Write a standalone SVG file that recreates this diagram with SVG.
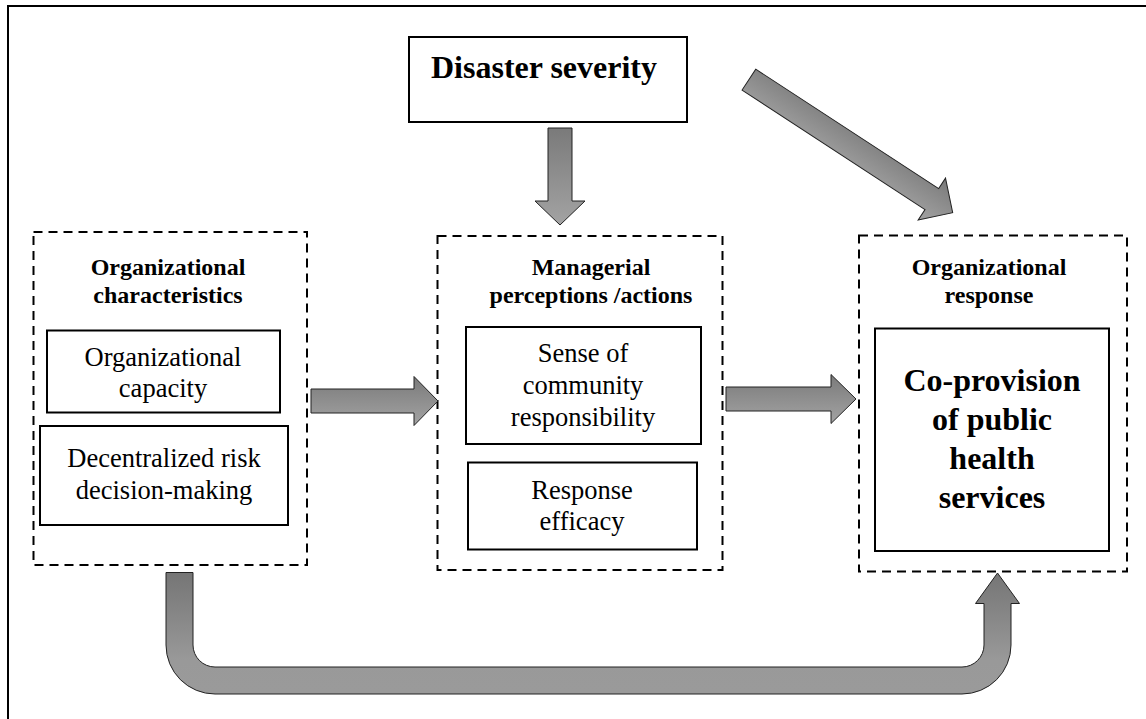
<svg xmlns="http://www.w3.org/2000/svg" width="1146" height="719" viewBox="0 0 1146 719">
  <defs>
    <linearGradient id="shade" x1="0" y1="0" x2="0" y2="1">
      <stop offset="0" stop-color="#7a7a7a"/>
      <stop offset="1" stop-color="#a3a3a3"/>
    </linearGradient>
    <linearGradient id="shadeU" gradientUnits="userSpaceOnUse" x1="0" y1="572" x2="0" y2="690">
      <stop offset="0" stop-color="#757575"/>
      <stop offset="0.75" stop-color="#999999"/>
      <stop offset="1" stop-color="#9a9a9a"/>
    </linearGradient>
    <style>
      .frame { fill: none; stroke: #000; stroke-width: 2; }
      .solid { fill: #fff; stroke: #000; stroke-width: 2; }
      .dashed { fill: none; stroke: #000; stroke-width: 2; stroke-dasharray: 9 6; }
      .arrow { fill: url(#shade); stroke: #222; stroke-width: 1; stroke-linejoin: miter; }
      .title { font-family: "Liberation Serif", "Times New Roman", serif; font-weight: bold; font-size: 24px; fill: #000; text-anchor: middle; }
      .body { font-family: "Liberation Serif", "Times New Roman", serif; font-size: 26.5px; fill: #000; text-anchor: middle; }
      .big { font-family: "Liberation Serif", "Times New Roman", serif; font-weight: bold; font-size: 32px; fill: #000; }
    </style>
  </defs>

  <rect width="1146" height="719" fill="#fff"/>

  <!-- page border (top and left edges) -->
  <g id="border">
    <line class="frame" x1="7" y1="6" x2="1146" y2="6"/>
    <line class="frame" x1="8" y1="5" x2="8" y2="719"/>
  </g>

  <!-- Disaster severity -->
  <g id="disaster-severity">
    <rect class="solid" x="409" y="37" width="278" height="85"/>
    <text class="big" x="431" y="78">Disaster severity</text>
  </g>

  <!-- Organizational characteristics -->
  <g id="org-characteristics">
    <rect class="dashed" x="33.5" y="232" width="273.5" height="333"/>
    <text class="title" x="168" y="275">Organizational</text>
    <text class="title" x="168" y="303">characteristics</text>
  </g>
  <g id="org-capacity">
    <rect class="solid" x="47" y="330.5" width="233" height="82"/>
    <text class="body" x="163" y="366">Organizational</text>
    <text class="body" x="163" y="397">capacity</text>
  </g>
  <g id="decentralized-risk">
    <rect class="solid" x="40" y="426" width="248" height="99"/>
    <text class="body" x="164" y="467">Decentralized risk</text>
    <text class="body" x="164" y="498.5">decision-making</text>
  </g>

  <!-- Managerial perceptions / actions -->
  <g id="managerial">
    <rect class="dashed" x="437.5" y="236" width="285" height="334"/>
    <text class="title" x="591" y="275">Managerial</text>
    <text class="title" x="591" y="303">perceptions /actions</text>
  </g>
  <g id="community-responsibility">
    <rect class="solid" x="466" y="327" width="235" height="117"/>
    <text class="body" x="583" y="362">Sense of</text>
    <text class="body" x="583" y="394">community</text>
    <text class="body" x="583" y="426">responsibility</text>
  </g>
  <g id="response-efficacy">
    <rect class="solid" x="468" y="462.5" width="229" height="87"/>
    <text class="body" x="582" y="498.5">Response</text>
    <text class="body" x="582" y="530">efficacy</text>
  </g>

  <!-- Organizational response -->
  <g id="org-response">
    <rect class="dashed" x="859" y="235.5" width="268" height="336"/>
    <text class="title" x="989" y="275">Organizational</text>
    <text class="title" x="989" y="303">response</text>
  </g>
  <g id="co-provision">
    <rect class="solid" x="875" y="328.5" width="234" height="222.5"/>
    <text class="big" x="992" y="391" text-anchor="middle">Co-provision</text>
    <text class="big" x="992" y="430" text-anchor="middle">of public</text>
    <text class="big" x="992" y="469" text-anchor="middle">health</text>
    <text class="big" x="992" y="508" text-anchor="middle">services</text>
  </g>

  <!-- block arrows -->
  <g id="connectors">
    <!-- severity down to managerial -->
    <path class="arrow" d="M548,128 L572,128 L572,201 L585,201 L560,225 L535,201 L548,201 Z"/>
    <!-- severity to organizational response -->
    <path class="arrow" transform="translate(748.9 79.6) rotate(33.15)" d="M0,-12.5 L218.5,-12.5 L218.5,-25 L243.4,0 L218.5,25 L218.5,12.5 L0,12.5 Z"/>
    <!-- characteristics to managerial -->
    <path class="arrow" d="M311,389 L414,389 L414,376.5 L438,401 L414,425.5 L414,413 L311,413 Z"/>
    <!-- managerial to organizational response -->
    <path class="arrow" d="M726,387 L831,387 L831,374.5 L856,399 L831,423.5 L831,411 L726,411 Z"/>
    <!-- characteristics directly to organizational response -->
    <path class="arrow" style="fill:url(#shadeU)" d="M166,572.5 L193,572.5 L193,645 A22,22 0 0 0 215,667 L962,667 A22,22 0 0 0 984,645 L984,603.5 L975.5,603.5 L997.5,573 L1019.5,603.5 L1011,603.5 L1011,645 A49,49 0 0 1 962,694 L215,694 A49,49 0 0 1 166,645 Z"/>
  </g>
</svg>
